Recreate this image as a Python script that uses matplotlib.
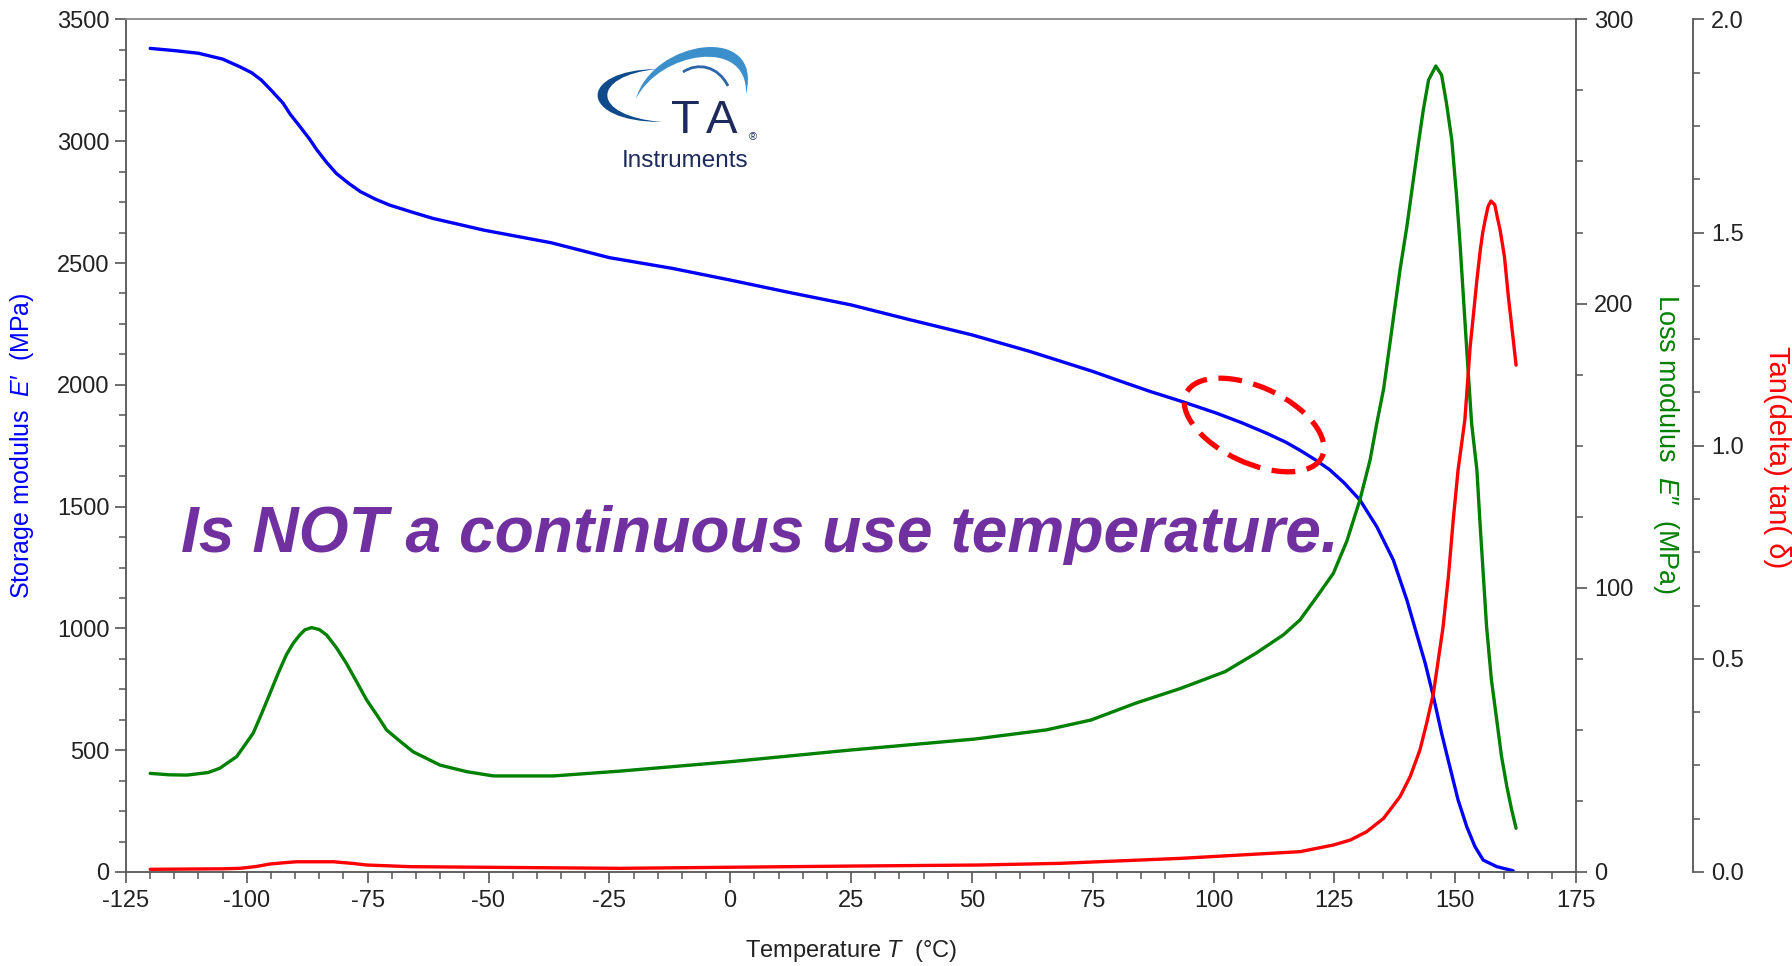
import matplotlib
matplotlib.use('Agg')
import matplotlib.pyplot as plt
from matplotlib import font_manager, transforms
from matplotlib.patches import Ellipse, PathPatch
from matplotlib.path import Path
from matplotlib.ticker import MultipleLocator, FormatStrFormatter

plt.rcParams['font.family'] = ['Liberation Sans', 'DejaVu Sans']
plt.rcParams['axes.unicode_minus'] = False
plt.rcParams['mathtext.fontset'] = 'custom'
plt.rcParams['mathtext.rm'] = 'Liberation Sans'
plt.rcParams['mathtext.it'] = 'Liberation Sans:italic'

names = {f.name for f in font_manager.fontManager.ttflist}
narrow = 'Liberation Sans Narrow' if 'Liberation Sans Narrow' in names else 'Liberation Sans'

# storage modulus E' (MPa)
temp_e1 = [-120, -115, -110, -105, -101.5, -99, -97, -95, -92.5, -91, -89, -87, -85.5, -83.5,
           -81.5, -79, -76.5, -73.5, -70.5, -66, -61.5, -56, -51, -44, -37, -25, -12, 0, 12,
           25, 37, 50, 62, 75, 80, 87, 94, 100.7, 106, 111, 115, 118, 121, 124, 127, 130.3,
           133.8, 137.2, 140, 142, 143.8, 145.5, 147.2, 148.9, 150.6, 152.4, 154.1, 155.8,
           158.6, 162]
e1 = [3381, 3372, 3361, 3337, 3306, 3281, 3251, 3210, 3156, 3110, 3060, 3008, 2964, 2913,
      2868, 2828, 2793, 2763, 2738, 2710, 2683, 2658, 2635, 2609, 2583, 2522, 2478, 2430, 2380,
      2328, 2268, 2205, 2137, 2055, 2020, 1972, 1928, 1883, 1843, 1801, 1764, 1730, 1693, 1652,
      1598, 1527, 1417, 1281, 1117, 980, 857, 720, 569, 432, 296, 186, 104, 49,
      22, 5]

# loss modulus E'' (MPa)
temp_e2 = [-120, -116, -112.4, -108, -105.6, -102.1, -98.7, -97, -95.2, -93.5, -91.8, -90.4,
           -89, -88, -86.6, -85, -83.5, -81.5, -79.4, -77.3, -75.2, -73, -71.1, -68.3, -65.6,
           -60, -54.5, -49, -36.6, -22.8, 0, 24.8, 50.7, 65.4, 74.7, 83.9, 93.2, 102.4, 108.8,
           114.5, 117.9, 121.4, 124.8, 127.6, 130.3, 132.4, 133.8, 135.2, 136.6, 138.6, 140,
           141.3, 142.4, 143.4, 144.5, 146, 147.2, 148.2, 149.3, 150.3, 151, 151.7, 152.4,
           153.4, 154.5, 155.1, 155.8, 156.5, 157.5, 158.6, 159.6, 160.7, 161.7, 162.6]
e2 = [34.7, 34.2, 34.1, 35, 36.5, 40.6, 48.8, 55.5, 62.9, 70, 76.5, 80.5,
      83.5, 85.2, 86, 85.3, 83.4, 79, 73.4, 67, 60.5, 55, 50, 46, 42.3,
      37.6, 35.3, 33.8, 33.8, 35.5, 38.8, 42.9, 46.8, 50, 53.5, 59.4, 64.6, 70.5, 77,
      83.5, 88.7, 96.9, 105.1, 116.5, 131, 145, 158, 170, 187.2, 212, 227,
      243, 256.4, 268.1, 278.7, 283.6, 280.4, 270.5, 257.6, 237.6, 221.2, 202.4, 183.7,
      157.9, 141.4, 123.9, 105.1, 86.3, 67.6, 53.5, 40.6, 30, 21.8, 15.4]

# tan(delta)
temp_tan = [-120, -105, -101.4, -98, -95.2, -92, -89.7, -82.1, -78, -75.2, -66.2, -22.8, 25.7,
            51.6, 68.2, 93.2, 117.9, 124.8, 128.3, 131.7, 135.2, 138.6, 140.7, 142.7, 144.1,
            145.5, 146.5, 147.5, 148.6, 149.6, 150.6, 152.0, 153.1, 153.8, 154.5, 155.2, 155.7,
            156.2, 156.8, 157.4, 158.2, 158.7, 159.3, 160.2, 161, 161.8, 162.6]
tan_d = [0.0063, 0.0075, 0.0086, 0.013, 0.0188, 0.022, 0.024, 0.024, 0.02, 0.0164, 0.0125, 0.0086,
         0.014, 0.0164, 0.0203, 0.032, 0.0477, 0.0633, 0.075, 0.0946, 0.126, 0.177, 0.224, 0.286,
         0.349, 0.419, 0.497, 0.575, 0.693, 0.826, 0.943, 1.06, 1.232, 1.31, 1.389, 1.459, 1.5,
         1.529, 1.561, 1.574, 1.565, 1.537, 1.506, 1.443, 1.35, 1.271, 1.189]

W, H = 1792, 966
fig = plt.figure(figsize=(W / 100, H / 100), dpi=100)
ax = fig.add_axes([126 / W, 1 - 872 / H, 1450 / W, 852.6 / H])
ax2 = ax.twinx()
ax3 = ax.twinx()
ax3.spines['right'].set_position(('axes', 1 + 117 / 1450))

spine_c = '#555555'
for a in (ax, ax2, ax3):
    for s in a.spines.values():
        s.set_color(spine_c)
        s.set_linewidth(1.3)
ax.spines['top'].set_color('#8a8a8a')
ax.spines['right'].set_visible(False)
for s in ('left', 'top', 'bottom'):
    ax2.spines[s].set_visible(False)
    ax3.spines[s].set_visible(False)

line_kw = dict(lw=2.4, solid_joinstyle='round', solid_capstyle='round')
ax.plot(temp_e1, e1, color='#0000ff', **line_kw)
ax2.plot(temp_e2, e2, color='#008000', **line_kw)
ax3.plot(temp_tan, tan_d, color='#ff0000', **line_kw)

ax.set_xlim(-125, 175)
ax.set_ylim(0, 3500)
ax2.set_ylim(0, 300)
ax3.set_ylim(0, 2.0)

ax.xaxis.set_major_locator(MultipleLocator(25))
ax.xaxis.set_minor_locator(MultipleLocator(5))
ax.yaxis.set_major_locator(MultipleLocator(500))
ax.yaxis.set_minor_locator(MultipleLocator(125))
ax2.yaxis.set_major_locator(MultipleLocator(100))
ax2.yaxis.set_minor_locator(MultipleLocator(25))
ax3.yaxis.set_major_locator(MultipleLocator(0.5))
ax3.yaxis.set_minor_locator(MultipleLocator(0.125))
ax3.yaxis.set_major_formatter(FormatStrFormatter('%.1f'))

for a in (ax, ax2, ax3):
    a.tick_params(which='major', length=8, width=1.2, color=spine_c, labelsize=17,
                  labelcolor='#222222', pad=5, direction='out')
    a.tick_params(which='minor', length=5, width=1.1, color=spine_c, direction='out')
ax.tick_params(axis='y', pad=4)

# axis titles
fig.text(851 / W, 1 - 951 / H, r'Temperature $\mathit{T}$  (°C)', ha='center', va='center',
         fontsize=17, color='#222222')
fig.text(22 / W, 1 - 446 / H, "Storage modulus  $\\mathit{E}$′  (MPa)", rotation=90,
         ha='center', va='center', fontsize=18, color='#0000ff')
fig.text(1666 / W, 1 - 444 / H, "Loss modulus  $\\mathit{E}$″  (MPa)", rotation=270,
         ha='center', va='center', fontsize=19.5, color='#008000', family=[narrow, 'DejaVu Sans'])
fig.text(1777 / W, 1 - 457 / H, 'Tan(delta) tan( δ)', rotation=270,
         ha='center', va='center', fontsize=21, color='#ff0000', family=[narrow, 'DejaVu Sans'])

# dashed ring around the region near 100-120 °C
ring_tr = fig.dpi_scale_trans + transforms.ScaledTranslation(108.4, 1835, ax.transData)
ax3.add_patch(Ellipse((0, 0), 1.5, 0.76, angle=-25, transform=ring_tr, fill=False,
                      ec='#ff0000', lw=3.8, ls=(0, (4.5, 2.2)), clip_on=False, zorder=5))

fig.text(181 / W, 1 - 535 / H, 'Is NOT a continuous use temperature.', ha='left', va='center',
         fontsize=46.2, weight='bold', style='italic', color='#7030a0')

# logo: drawn in pixel units with y pointing down
px = transforms.Affine2D().scale(1 / W, -1 / H).translate(0, 1) + fig.transFigure
C3 = Path.CURVE4


def crescent(outer, inner, color):
    codes = [Path.MOVETO, C3, C3, C3, Path.LINETO, C3, C3, C3, Path.CLOSEPOLY]
    verts = list(outer) + list(inner) + [outer[0]]
    fig.add_artist(PathPatch(Path(verts, codes), transform=px, fc=color, ec='none'))


crescent([(657, 69), (577, 70), (577, 122), (662, 122)],
         [(662, 122), (590, 116), (590, 76), (657, 69)], '#0f4a8c')
crescent([(636, 99), (652, 40), (764, 22), (746, 94)],
         [(746, 94), (748, 36), (659, 52), (636, 99)], '#3b8fca')
fig.add_artist(PathPatch(Path([(683, 72), (698, 62), (718, 66), (728, 86)], [Path.MOVETO, C3, C3, C3]),
                         transform=px, fc='none', ec='#2c66aa', lw=2))
fig.text(685 / W, 1 - 133 / H, 'T', ha='center', va='baseline', fontsize=34, color='#1c2a5c')
fig.text(722 / W, 1 - 133 / H, 'A', ha='center', va='baseline', fontsize=34, color='#1c2a5c')
fig.text(753 / W, 1 - 140 / H, '®', ha='center', va='baseline', fontsize=8, color='#1c2a5c')
fig.text(685 / W, 1 - 167 / H, 'Instruments', ha='center', va='baseline', fontsize=17.5,
         color='#1c2a5c')

fig.savefig('out.png', dpi=100, facecolor='white')
